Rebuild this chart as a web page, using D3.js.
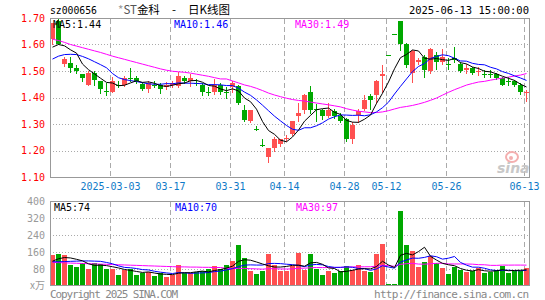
<!DOCTYPE html>
<html><head><meta charset="utf-8">
<script src="https://cdn.jsdelivr.net/npm/d3@7"></script>
<style>
body{margin:0;background:#fff}
svg{display:block}
text{font-family:"DejaVu Sans Mono",monospace;font-size:10px}
</style>
</head><body><svg id="c" width="545" height="300"></svg>
<script>
const dates = [
"2025-02-17","2025-02-18","2025-02-19","2025-02-20","2025-02-21","2025-02-24","2025-02-25","2025-02-26","2025-02-27","2025-02-28",
"2025-03-03","2025-03-04","2025-03-05","2025-03-06","2025-03-07","2025-03-10","2025-03-11","2025-03-12","2025-03-13","2025-03-14",
"2025-03-17","2025-03-18","2025-03-19","2025-03-20","2025-03-21","2025-03-24","2025-03-25","2025-03-26","2025-03-27","2025-03-28",
"2025-03-31","2025-04-01","2025-04-02","2025-04-03","2025-04-07","2025-04-08","2025-04-09","2025-04-10","2025-04-11","2025-04-14",
"2025-04-15","2025-04-16","2025-04-17","2025-04-18","2025-04-21","2025-04-22","2025-04-23","2025-04-24","2025-04-25","2025-04-28",
"2025-04-29","2025-04-30","2025-05-06","2025-05-07","2025-05-08","2025-05-09","2025-05-12","2025-05-13","2025-05-14","2025-05-15",
"2025-05-16","2025-05-19","2025-05-20","2025-05-21","2025-05-22","2025-05-23","2025-05-26","2025-05-27","2025-05-28","2025-05-29",
"2025-05-30","2025-06-03","2025-06-04","2025-06-05","2025-06-06","2025-06-09","2025-06-10","2025-06-11","2025-06-12","2025-06-13"];

const open = [1.62,1.69,1.525,1.531,1.512,1.49,1.449,1.494,1.462,1.423,
1.421,1.449,1.449,1.475,1.474,1.45,1.431,1.447,1.447,1.44,
1.447,1.444,1.474,1.462,1.454,1.449,1.419,1.419,1.447,1.421,
1.44,1.443,1.352,1.311,1.28,1.22,1.176,1.21,1.223,1.246,
1.264,1.331,1.352,1.419,1.355,1.352,1.331,1.348,1.331,1.318,
1.243,1.333,1.358,1.406,1.411,1.482,1.56,1.64,1.69,1.60,
1.494,1.535,1.553,1.50,1.56,1.535,1.528,1.55,1.528,1.503,
1.512,1.498,1.489,1.489,1.49,1.472,1.461,1.462,1.449,1.418];
const high = [1.68,1.70,1.553,1.553,1.522,1.49,1.50,1.50,1.462,1.453,
1.478,1.462,1.48,1.512,1.48,1.459,1.462,1.462,1.453,1.459,
1.462,1.497,1.48,1.49,1.468,1.453,1.44,1.469,1.453,1.44,
1.462,1.449,1.371,1.352,1.293,1.243,1.21,1.25,1.243,1.26,
1.311,1.381,1.415,1.443,1.374,1.358,1.381,1.356,1.34,1.321,
1.306,1.356,1.411,1.415,1.465,1.522,1.56,1.64,1.69,1.604,
1.579,1.55,1.56,1.585,1.57,1.582,1.55,1.591,1.535,1.528,
1.516,1.516,1.503,1.503,1.494,1.478,1.478,1.465,1.453,1.428];
const low = [1.60,1.60,1.52,1.497,1.494,1.462,1.447,1.447,1.418,1.41,
1.419,1.44,1.443,1.462,1.453,1.428,1.421,1.44,1.418,1.431,
1.44,1.44,1.453,1.443,1.447,1.411,1.411,1.415,1.415,1.40,
1.419,1.377,1.311,1.306,1.278,1.218,1.157,1.20,1.218,1.235,
1.26,1.311,1.343,1.343,1.311,1.318,1.327,1.321,1.308,1.235,
1.23,1.306,1.352,1.356,1.381,1.419,1.56,1.64,1.58,1.516,
1.459,1.525,1.478,1.491,1.507,1.525,1.507,1.535,1.497,1.494,
1.49,1.484,1.478,1.478,1.469,1.447,1.447,1.444,1.415,1.386];
const close = [1.68,1.60,1.545,1.512,1.50,1.474,1.494,1.465,1.431,1.421,
1.462,1.443,1.474,1.475,1.462,1.431,1.453,1.447,1.431,1.447,
1.453,1.48,1.462,1.474,1.453,1.419,1.419,1.449,1.421,1.421,
1.453,1.38,1.315,1.352,1.28,1.22,1.21,1.243,1.243,1.248,
1.311,1.34,1.411,1.352,1.355,1.331,1.352,1.331,1.311,1.243,
1.298,1.348,1.39,1.39,1.462,1.49,1.56,1.64,1.60,1.522,
1.575,1.541,1.503,1.582,1.535,1.553,1.528,1.541,1.50,1.512,
1.494,1.50,1.489,1.489,1.474,1.449,1.461,1.449,1.419,1.42];

const volume = [145,151,145,98,89,109,81,109,103,78,
82,53,73,81,53,59,65,47,59,44,
53,98,59,59,65,70,78,93,81,98,
117,191,131,70,56,70,149,101,70,70,
96,154,75,149,81,51,70,61,70,93,
76,98,70,65,149,200,10,10,354,194,
163,89,112,140,106,86,56,89,75,65,
69,87,62,65,75,95,62,69,69,86];

// moving-average values before a full window exists
const ma5Head = [1.59,1.60,1.595,1.58];
const ma10Head = [1.545,1.556,1.562,1.563,1.562,1.555,1.546,1.535,1.524];
const ma30Head = [1.62,1.615,1.608,1.60,1.594,1.588,1.582,1.576,1.57,1.563,
1.556,1.55,1.544,1.538,1.532,1.526,1.52,1.514,1.508,1.503,
1.499,1.497,1.495,1.492,1.488,1.484,1.48,1.475,1.47];
const vma5Head = [117,128,134,132];
const vma10Head = [114,114,115,116,117,118,118,117,116];
const vma30Head = [111,110,109,108,107,106,105,104,103,102,
101,100,99,98,97,96,95,94,93,92,91,90,90,89,89,88,88,87,87];

const priceTicks = [1.10,1.20,1.30,1.40,1.50,1.60,1.70];
const volTicks = [80,160,240,320,400];
const dateTicks = [["2025-03-03","2025-03-03"],["2025-03-17","03-17"],["2025-03-31","03-31"],["2025-04-14","04-14"],
["2025-04-28","04-28"],["2025-05-12","05-12"],["2025-05-26","05-26"],["2025-06-13","06-13"]];
const priceLegend = [["MA5:1.44","#000"],["MA10:1.46","#0000ff"],["MA30:1.49","#ff00ff"]];
const volLegend = [["MA5:74","#000"],["MA10:70","#0000ff"],["MA30:97","#ff00ff"]];

function movingAvg(arr, n, head){
  return arr.map((v,i)=> i < n-1 ? head[i] : d3.mean(arr.slice(i-n+1,i+1)));
}

const svg = d3.select("#c");
const L=50, R=530;
const x = d3.scaleBand().domain(dates).range([L,R]).padding(0);
const y = d3.scaleLinear().domain([1.10,1.70]).range([177,18]);
const yv = d3.scaleLinear().domain([0,400]).range([286,201]);
const cx = d => x(d)+2.5;
const RED="#ff5050", GREEN="#00a800", GRID="#aaaaaa", FRAME="#999999";

// grids
const g = svg.append("g");
priceTicks.slice(1,-1).forEach(t=>{
  const yy=Math.round(y(t))+0.5;
  g.append("line").attr("x1",L).attr("x2",R-1).attr("y1",yy).attr("y2",yy)
   .attr("stroke",GRID).attr("stroke-dasharray","1,2");
});
volTicks.slice(0,-1).forEach(t=>{
  const yy=Math.round(yv(t))+0.5;
  g.append("line").attr("x1",L).attr("x2",R-1).attr("y1",yy).attr("y2",yy)
   .attr("stroke",GRID).attr("stroke-dasharray","1,2");
});
dateTicks.forEach(([d])=>{
  const xx=x(d)+0.5;
  g.append("line").attr("x1",xx).attr("x2",xx).attr("y1",19).attr("y2",177)
   .attr("stroke",GRID).attr("stroke-dasharray","5,3");
  g.append("line").attr("x1",xx).attr("x2",xx).attr("y1",202).attr("y2",286)
   .attr("stroke",GRID).attr("stroke-dasharray","5,3");
});

// sina watermark
const wm = svg.append("g");
wm.append("ellipse").attr("cx",512).attr("cy",157).attr("rx",6).attr("ry",5).attr("fill","none").attr("stroke","#f4b0b0").attr("stroke-width",2);
wm.append("circle").attr("cx",511).attr("cy",158).attr("r",2).attr("fill","#f4b0b0");
wm.append("text").attr("x",497).attr("y",173).attr("fill","#c8c8c8")
  .style("font-family","DejaVu Sans").style("font-size","14px").style("font-style","italic").style("font-weight","bold").text("sina");

// candles
const idx = d3.range(dates.length);
const cg = svg.append("g");
idx.forEach(i=>{
  const up = close[i] > open[i];
  const col = up ? RED : GREEN;
  const xc = Math.round(cx(dates[i])-0.5)+0.5;
  cg.append("line").attr("x1",xc).attr("x2",xc)
    .attr("y1",Math.round(y(high[i]))).attr("y2",Math.round(y(low[i]))+1)
    .attr("stroke",col);
  const top = Math.round(y(Math.max(open[i],close[i])));
  const bot = Math.round(y(Math.min(open[i],close[i])));
  cg.append("rect").attr("x",x(dates[i])).attr("width",x.bandwidth()-1)
    .attr("y",top).attr("height",Math.max(1,bot-top)).attr("fill",col);
});

// volume bars
idx.forEach(i=>{
  const up = close[i] > open[i];
  const top = Math.round(yv(volume[i]));
  cg.append("rect").attr("x",x(dates[i])).attr("width",x.bandwidth()-1)
    .attr("y",top).attr("height",286-top).attr("fill",up?RED:GREEN);
});

// moving averages
const lineP = d3.line().x((v,i)=>cx(dates[i])).y(v=>y(v));
const lineV = d3.line().x((v,i)=>cx(dates[i])).y(v=>yv(v));
[[movingAvg(close,30,ma30Head),"#ff00ff"],[movingAvg(close,10,ma10Head),"#0000ff"],[movingAvg(close,5,ma5Head),"#000"]]
 .forEach(([d,c])=>svg.append("path").attr("d",lineP(d)).attr("fill","none").attr("stroke",c).attr("stroke-width",1));
[[movingAvg(volume,30,vma30Head),"#ff00ff"],[movingAvg(volume,10,vma10Head),"#0000ff"],[movingAvg(volume,5,vma5Head),"#000"]]
 .forEach(([d,c])=>svg.append("path").attr("d",lineV(d)).attr("fill","none").attr("stroke",c).attr("stroke-width",1));

// frames
svg.append("rect").attr("x",L+0.5).attr("y",18.5).attr("width",479).attr("height",159).attr("fill","none").attr("stroke",FRAME);
svg.append("rect").attr("x",L+0.5).attr("y",201.5).attr("width",479).attr("height",84).attr("fill","none").attr("stroke",FRAME);

// axis labels
priceTicks.forEach(t=>{
  svg.append("text").attr("x",45).attr("y",y(t)+3.5).attr("text-anchor","end").attr("fill","#ff0000").text(t.toFixed(2));
});
volTicks.forEach(t=>{
  svg.append("text").attr("x",45).attr("y",yv(t)+3.5).attr("text-anchor","end").attr("fill","#999").text(t);
});
svg.append("text").attr("x",45).attr("y",289).attr("text-anchor","end").attr("fill","#999")
  .style("font-family","'Noto Sans CJK SC',sans-serif").style("font-size","10px").text("x万");
dateTicks.forEach(([d,lab])=>{
  svg.append("text").attr("x",x(d)+0.5).attr("y",190).attr("text-anchor","middle").attr("fill","#0f7ac8").text(lab);
});

// legends
const lx=[53,174,295];
priceLegend.forEach(([t,c],k)=>svg.append("text").attr("x",lx[k]).attr("y",27.5).attr("fill",c).text(t));
volLegend.forEach(([t,c],k)=>svg.append("text").attr("x",lx[k]+1).attr("y",211).attr("fill",c).text(t));

// header
svg.append("text").attr("x",50).attr("y",14).style("font-size","11px").attr("textLength",47).attr("lengthAdjust","spacingAndGlyphs").attr("fill","#000").text("sz000656");
const t1 = svg.append("text").attr("x",118).attr("y",14).style("font-family","'Noto Sans CJK SC',sans-serif").style("font-size","11.5px");
t1.append("tspan").attr("fill","#999").text("*");
t1.append("tspan").attr("fill","#555").text("ST");
t1.append("tspan").attr("fill","#000").text("金科");
svg.append("text").attr("x",172).attr("y",14).style("font-family","'Noto Sans CJK SC',sans-serif").style("font-size","11.5px").text("-");
svg.append("text").attr("x",188).attr("y",14).style("font-family","'Noto Sans CJK SC',sans-serif").style("font-size","11.5px").attr("textLength",42).text("日K线图");
svg.append("text").attr("x",529).attr("y",14).attr("text-anchor","end").style("font-size","10.5px").attr("fill","#000").text("2025-06-13 15:00:00");

// footer
svg.append("text").attr("x",50).attr("y",298).attr("fill","#888").style("font-size","11px").attr("textLength",128).text("Copyright 2025 SINA.COM");
svg.append("text").attr("x",529).attr("y",298).attr("text-anchor","end").attr("fill","#888").style("font-size","11px").attr("textLength",155).text("http://finance.sina.com.cn");
</script></body></html>
